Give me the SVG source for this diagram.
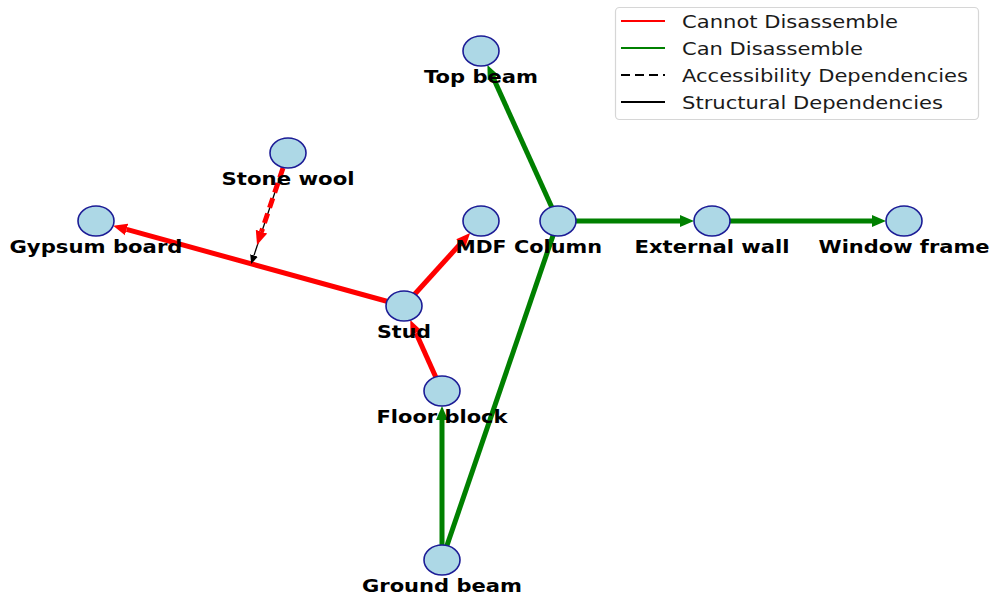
<svg xmlns="http://www.w3.org/2000/svg" width="991" height="595" viewBox="0 0 991 595">
<style>
.e{fill:none;stroke-width:5;stroke-linecap:butt}
.r{stroke:#ff0000}
.g{stroke:#008000}
.n ellipse{fill:#add8e6;stroke:#1c1c96;stroke-width:1.6}
.n text{font-family:"DejaVu Sans","Liberation Sans",sans-serif;font-weight:bold;font-size:17px;fill:#000;text-anchor:middle}
.lg text{font-family:"DejaVu Sans","Liberation Sans",sans-serif;font-size:17.5px;fill:#1a1a1a}
</style>
<defs>
<marker id="ar" markerUnits="userSpaceOnUse" viewBox="0 -7 14 14" refX="0" refY="0" markerWidth="14" markerHeight="14" orient="auto"><path d="M0,-6 L14,0 L0,6 Z" fill="#ff0000"/></marker>
<marker id="ag" markerUnits="userSpaceOnUse" viewBox="0 -7 14 14" refX="0" refY="0" markerWidth="14" markerHeight="14" orient="auto"><path d="M0,-6 L14,0 L0,6 Z" fill="#008000"/></marker>
<marker id="ak" markerUnits="userSpaceOnUse" viewBox="0 -5 9 10" refX="0" refY="0" markerWidth="9" markerHeight="10" orient="auto"><path d="M0,-4 L9,0 L0,4 Z" fill="#000"/></marker>
</defs>
<g id="connectors">
<line class="e r" x1="404" y1="306" x2="126.6" y2="229.4" marker-end="url(#ar)"/>
<line class="e r" x1="404" y1="306" x2="460.7" y2="243.4" marker-end="url(#ar)"/>
<line class="e r" x1="442" y1="391" x2="416" y2="332.9" marker-end="url(#ar)"/>
<line class="e g" x1="558" y1="221" x2="493.2" y2="77.8" marker-end="url(#ag)"/>
<line class="e g" x1="558" y1="221" x2="680" y2="221" marker-end="url(#ag)"/>
<line class="e g" x1="712" y1="221" x2="872" y2="221" marker-end="url(#ag)"/>
<line class="e g" x1="442" y1="560" x2="442" y2="420" marker-end="url(#ag)"/>
<line class="e g" x1="442" y1="560" x2="558" y2="221"/>
<line fill="none" stroke="#000" stroke-width="1.3" x1="283" y1="168" x2="254" y2="255.4" marker-end="url(#ak)"/>
<line class="e r" stroke-dasharray="10,6" x1="283" y1="168" x2="261.5" y2="231.7" marker-end="url(#ar)"/>
</g>
<g id="top-beam" class="n"><ellipse cx="481" cy="51" rx="18" ry="15"/><text x="481" y="83" textLength="114" lengthAdjust="spacingAndGlyphs">Top beam</text></g>
<g id="stone-wool" class="n"><ellipse cx="288" cy="153" rx="18" ry="15"/><text x="288" y="185" textLength="133" lengthAdjust="spacingAndGlyphs">Stone wool</text></g>
<g id="gypsum-board" class="n"><ellipse cx="96" cy="221" rx="18" ry="15"/><text x="96" y="253" textLength="173" lengthAdjust="spacingAndGlyphs">Gypsum board</text></g>
<g id="mdf" class="n"><ellipse cx="481" cy="221" rx="18" ry="15"/><text x="481" y="253" textLength="51" lengthAdjust="spacingAndGlyphs">MDF</text></g>
<g id="column" class="n"><ellipse cx="558" cy="221" rx="18" ry="15"/><text x="558" y="253" textLength="88" lengthAdjust="spacingAndGlyphs">Column</text></g>
<g id="external-wall" class="n"><ellipse cx="712" cy="221" rx="18" ry="15"/><text x="712" y="253" textLength="155" lengthAdjust="spacingAndGlyphs">External wall</text></g>
<g id="window-frame" class="n"><ellipse cx="904" cy="221" rx="18" ry="15"/><text x="904" y="253" textLength="171" lengthAdjust="spacingAndGlyphs">Window frame</text></g>
<g id="stud" class="n"><ellipse cx="404" cy="306" rx="18" ry="15"/><text x="404" y="338" textLength="54" lengthAdjust="spacingAndGlyphs">Stud</text></g>
<g id="floor-block" class="n"><ellipse cx="442" cy="391" rx="18" ry="15"/><text x="442" y="423" textLength="131" lengthAdjust="spacingAndGlyphs">Floor block</text></g>
<g id="ground-beam" class="n"><ellipse cx="442" cy="560" rx="18" ry="15"/><text x="442" y="592" textLength="160" lengthAdjust="spacingAndGlyphs">Ground beam</text></g>
<g id="legend" class="lg">
<rect x="615.5" y="7.5" width="363" height="112" rx="4" fill="#fff" fill-opacity="0.8" stroke="#d6d6d6" stroke-width="1.2"/>
<line x1="621" y1="21" x2="665" y2="21" stroke="#ff0000" stroke-width="2"/>
<line x1="621" y1="48" x2="665" y2="48" stroke="#008000" stroke-width="2"/>
<line x1="621" y1="75" x2="665" y2="75" stroke="#000" stroke-width="2" stroke-dasharray="9,5"/>
<line x1="621" y1="102" x2="665" y2="102" stroke="#000" stroke-width="2"/>
<text x="682" y="28" textLength="216" lengthAdjust="spacingAndGlyphs">Cannot Disassemble</text>
<text x="682" y="55" textLength="181" lengthAdjust="spacingAndGlyphs">Can Disassemble</text>
<text x="682" y="82" textLength="286" lengthAdjust="spacingAndGlyphs">Accessibility Dependencies</text>
<text x="682" y="109" textLength="261" lengthAdjust="spacingAndGlyphs">Structural Dependencies</text>
</g>
</svg>
